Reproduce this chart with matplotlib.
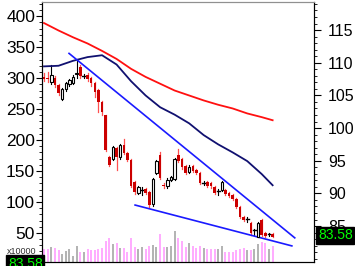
import matplotlib
matplotlib.use('Agg')
import matplotlib.pyplot as plt
import matplotlib.transforms as mtransforms
from matplotlib.ticker import MultipleLocator
import numpy as np

# candle data
opens = [302, 300, 293, 300, 289, 266, 282, 290, 292, 306, 318, 303, 305, 300, 292, 281,
         261, 240, 172, 169, 187, 172, 192, 179, 168, 132, 115, 119, 121, 116, 96, 147,
         176, 127, 125, 136, 137, 176, 169, 158, 149, 158, 151, 147, 131, 132, 131, 124,
         118, 119, 119, 114, 111, 105, 92, 76, 72, 66, 55, 44, 71, 50, 48, 48]
closes = [298, 298, 305, 289, 276, 282, 292, 297, 302, 308, 303, 303, 298, 292, 277, 261,
          245, 184, 160, 189, 172, 192, 179, 168, 126, 116, 124, 119, 115, 95, 137, 166,
          139, 125, 136, 140, 169, 166, 156, 147, 157, 150, 147, 131, 131, 126, 125, 115,
          118, 132, 113, 110, 105, 92, 76, 71, 72, 50, 55, 66, 47, 45, 48, 44]
highs = [308, 310, 321, 303, 291, 284, 294, 299, 305, 331, 321, 306, 308, 302, 294, 283,
         263, 241, 174, 191, 189, 194, 201, 181, 170, 134, 126, 124, 123, 118, 139, 168,
         181, 131, 138, 142, 171, 185, 171, 160, 159, 160, 153, 149, 134, 134, 133, 126,
         121, 134, 121, 116, 113, 107, 94, 78, 75, 68, 57, 68, 73, 52, 50, 50]
lows = [295, 294, 290, 286, 273, 264, 280, 288, 290, 300, 300, 300, 295, 288, 270, 245,
        240, 182, 158, 167, 152, 170, 177, 166, 124, 113, 113, 112, 113, 92, 94, 145,
        137, 122, 123, 134, 135, 164, 154, 145, 147, 148, 145, 129, 128, 124, 123, 113,
        112, 117, 111, 108, 103, 90, 74, 69, 68, 46, 46, 43, 45, 43, 45, 43]
volume = [13, 13, 15, 14, 12, 8, 11, 13, 6, 16, 10, 10, 13, 12, 12, 13,
          14, 21, 24, 18, 19, 14, 14, 10, 24, 15, 13, 15, 13, 16, 17, 15,
          28, 15, 15, 16, 31, 24, 21, 15, 19, 16, 14, 16, 14, 13, 13, 13,
          13, 16, 10, 10, 10, 12, 13, 14, 12, 12, 13, 18, 20, 19, 13, 16]

# moving averages, read at every 4th candle
ma_idx = [0, 4, 8, 12, 16, 20, 24, 28, 32, 36, 40, 44, 48, 52, 56, 60, 63]
ma_long = [389, 377, 366, 356, 344, 331, 315, 302, 291, 280, 272, 264, 257, 251, 243, 237, 232]
ma_mid = [319, 320, 328, 334, 337, 322, 295, 272, 253, 241, 227, 208, 193, 180, 166, 145, 127]

# trend lines (candle index, price)
upper_line = ([6.9, 69.1], [340, 42])
lower_line = ([25.1, 68.3], [95, 29])

last_value = 83.58
left_ticks = [50, 100, 150, 200, 250, 300, 350, 400]
right_ticks = [85, 90, 95, 100, 105, 110, 115]

W, H = 355, 266
fig = plt.figure(figsize=(W / 100, H / 100), dpi=100)
rect = [42 / W, 1 - 262 / H, (314 - 42) / W, 260 / H]

ax = fig.add_axes(rect)
axv = fig.add_axes(rect, sharex=ax)
axv.set_zorder(0)
ax.set_zorder(1)
ax.patch.set_visible(False)
axv.axis('off')

n = len(opens)
x = np.arange(n)
up = [c >= o for o, c in zip(opens, closes)]

# volume
vcol = ['#b4b4b4' if u else '#ffadff' for u in up]
axv.bar(x, volume, width=0.55, color=vcol, linewidth=0)
axv.set_ylim(0, max(volume) * 8.4)

# candles
for i in range(n):
    o, c, h, l = opens[i], closes[i], highs[i], lows[i]
    if o == c:
        ax.plot([i, i], [l, h], color='black', lw=0.8)
        ax.plot([i - 0.4, i + 0.4], [o, o], color='black', lw=1.0)
    elif up[i]:
        ax.plot([i, i], [l, h], color='black', lw=0.8)
        ax.bar(i, c - o, bottom=o, width=0.7, facecolor='white',
               edgecolor='black', linewidth=0.8, zorder=3)
    else:
        ax.plot([i, i], [l, h], color='#ff5050', lw=0.9)
        ax.bar(i, o - c, bottom=c, width=0.7, color='#cc0000', linewidth=0, zorder=3)

ax.plot(ma_idx, ma_long, color='#ff1010', lw=1.3)
ax.plot(ma_idx, ma_mid, color='#101070', lw=1.3)
ax.plot(*upper_line, color='#1a1aff', lw=1.2)
ax.plot(*lower_line, color='#1a1aff', lw=1.2)

ax.set_xlim(-0.55, 74.4)
ax.set_ylim(3, 423)
ax.set_xticks([])
ax.set_yticks(left_ticks)
ax.yaxis.set_minor_locator(MultipleLocator(10))
ax.tick_params(axis='y', which='major', direction='out', length=4, width=0.8,
               labelsize=12.5, pad=1)
ax.tick_params(axis='y', which='minor', direction='out', length=2, width=0.6)
ax.spines['top'].set_color('#909090')

ax2 = ax.twinx()
ax2.set_ylim(79.5, 119.3)
ax2.set_yticks(right_ticks)
ax2.yaxis.set_minor_locator(MultipleLocator(1))
ax2.tick_params(axis='y', which='major', direction='out', length=5, width=0.8,
                labelsize=11.5, pad=5)
ax2.tick_params(axis='y', which='minor', direction='out', length=2.5, width=0.6)
ax2.spines['top'].set_color('#909090')
for a in (ax, ax2):
    for lab in a.get_yticklabels():
        lab.set_family('Liberation Sans')

trans = mtransforms.blended_transform_factory(ax2.transAxes, ax2.transData)
ax2.text(1.015, last_value, f'{last_value:.2f}', transform=trans, color='#00ff00',
         fontsize=10, family='Liberation Sans', va='center', ha='left',
         bbox=dict(facecolor='black', edgecolor='black', pad=1.2), zorder=5)

fig.text(7 / W, 1 - 252 / H, 'x10000', fontsize=6.5, family='Liberation Sans',
         va='center', ha='left', color='#303030')
fig.text(8 / W, 1 - 264 / H, f'{last_value:.2f}', fontsize=10, family='Liberation Sans',
         color='#00ff00', va='center', ha='left',
         bbox=dict(facecolor='black', edgecolor='black', pad=1.2))

fig.savefig('out.png', dpi=100)
